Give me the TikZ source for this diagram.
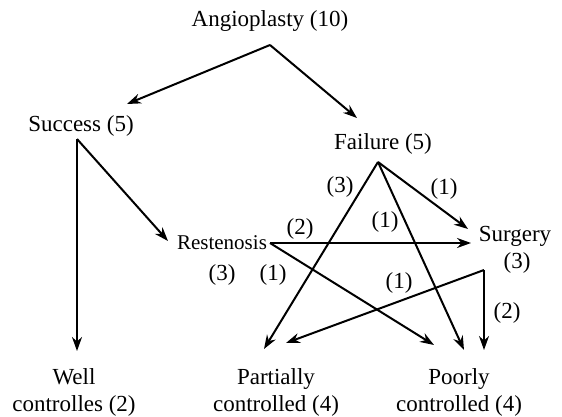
\documentclass[tikz,border=0pt]{standalone}
\usepackage{fontspec}
\setmainfont{Liberation Serif}
\usetikzlibrary{arrows.meta}

\tikzset{
  state/.style={anchor=base,inner sep=0pt,align=center,
    font=\fontsize{11.5}{13.5}\selectfont},
  small state/.style={state,font=\fontsize{10.5}{12}\selectfont},
  count/.style={state}
}

\begin{document}
\begin{tikzpicture}[->,>={Stealth[length=7pt,width=5pt]},line width=1pt,
                    x=0.5pt,y=-0.5pt]
  \useasboundingbox (0,0) rectangle (562,417);

  % outcomes
  \node[state]       (angio)   at (270,27)  {Angioplasty (10)};
  \node[state]       (success) at (81,132)  {Success (5)};
  \node[state]       (failure) at (383,149) {Failure (5)};
  \node[small state] (resten)  at (222,249) {Restenosis};
  \node[state]       (surgery) at (515,241) {Surgery};
  \node[state]       (well)    at (74,411)  {Well\\controlles (2)};
  \node[state]       (partial) at (276,411) {Partially\\controlled (4)};
  \node[state]       (poorly)  at (459,411) {Poorly\\controlled (4)};

  % where the arrows leave and meet
  \coordinate (angio-out)   at (270,45);
  \coordinate (success-out) at (77,139);
  \coordinate (failure-out) at (378,162);
  \coordinate (resten-out)  at (270,243);
  \coordinate (surgery-out) at (484,270);
  \coordinate (success-in)  at (127,104);
  \coordinate (failure-in)  at (357,118);
  \coordinate (resten-in)   at (168,241);
  \coordinate (well-in)     at (77,351);
  \coordinate (surgery-in1) at (468,229);
  \coordinate (surgery-in2) at (471,243);
  \coordinate (partial-in1) at (264,349);
  \coordinate (partial-in2) at (286,343);
  \coordinate (poorly-in1)  at (434,345);
  \coordinate (poorly-in2)  at (464,350);
  \coordinate (poorly-in3)  at (484,350);

  \draw (angio-out) -- (success-in);
  \draw (angio-out) -- (failure-in);
  \draw (success-out) -- (well-in);
  \draw (success-out) -- (resten-in);
  \draw (failure-out) -- (partial-in1);
  \draw (failure-out) -- (poorly-in2);
  \draw (failure-out) -- (surgery-in1);
  \draw (resten-out) -- (surgery-in2);
  \draw (resten-out) -- (poorly-in1);
  \draw (surgery-out) -- (partial-in2);
  \draw (surgery-out) -- (poorly-in3);

  % counts
  \node[count] (n-fp) at (340,192) {(3)};
  \node[count] (n-fs) at (444,194) {(1)};
  \node[count] (n-rs) at (300,234) {(2)};
  \node[count] (n-fq) at (385,227) {(1)};
  \node[count] (n-r)  at (222,280) {(3)};
  \node[count] (n-rq) at (273,280) {(1)};
  \node[count] (n-sp) at (399,288) {(1)};
  \node[count] (n-s)  at (517,268) {(3)};
  \node[count] (n-sq) at (507,318) {(2)};
\end{tikzpicture}
\end{document}
